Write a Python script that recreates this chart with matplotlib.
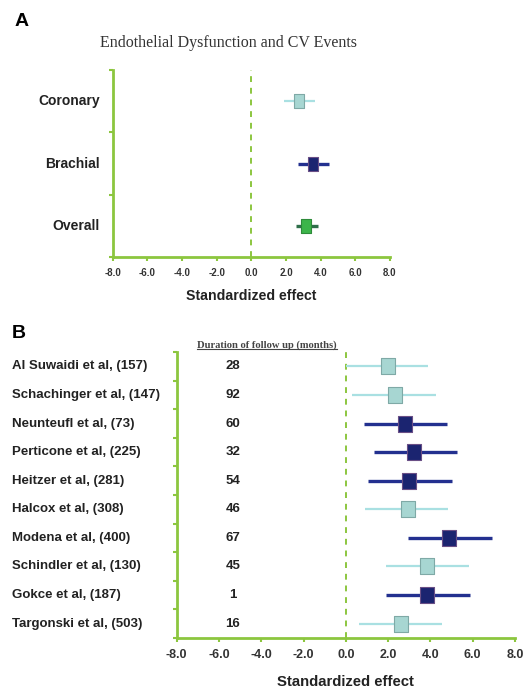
import numpy as np
import matplotlib
matplotlib.use("Agg")
import matplotlib.pyplot as plt
from matplotlib.path import Path

plt.rcParams['font.family'] = ['Liberation Sans', 'DejaVu Sans']

# panel A data
a_labels = ["Coronary", "Brachial", "Overall"]
a_est = [2.73, 3.56, 3.18]
a_lo = [1.87, 2.70, 2.56]
a_hi = [3.70, 4.49, 3.83]
a_kind = ["light", "dark", "green"]

# panel B data
b_labels = ["Al Suwaidi et al, (157)", "Schachinger et al, (147)", "Neunteufl et al, (73)",
            "Perticone et al, (225)", "Heitzer et al, (281)", "Halcox et al, (308)",
            "Modena et al, (400)", "Schindler et al, (130)", "Gokce et al, (187)",
            "Targonski et al, (503)"]
b_months = ["28", "92", "60", "32", "54", "46", "67", "45", "1", "16"]
b_est = [1.99, 2.31, 2.82, 3.24, 2.98, 2.92, 4.89, 3.86, 3.86, 2.60]
b_lo = [0.00, 0.30, 0.86, 1.34, 1.07, 0.91, 2.92, 1.90, 1.90, 0.64]
b_hi = [3.90, 4.26, 4.77, 5.26, 5.00, 4.81, 6.89, 5.82, 5.85, 4.57]
b_kind = ["light", "light", "dark", "dark", "dark", "light", "dark", "light", "dark", "light"]

xticks = np.arange(-8, 9, 2)

GREEN = "#8cc63f"
styles = {
    "light": dict(line="#a9e0e2", lw=1.6, fill="#a7d6d2", edge="#7fa9a6"),
    "dark": dict(line="#23308f", lw=2.4, fill="#1b2470", edge="#6a4f86"),
    "green": dict(line="#2f6f4a", lw=2.4, fill="#3cb54a", edge="#2e8b3a"),
}


def box_marker(w):
    return Path([(-w, -0.5), (w, -0.5), (w, 0.5), (-w, 0.5), (-w, -0.5)],
                [Path.MOVETO, Path.LINETO, Path.LINETO, Path.LINETO, Path.CLOSEPOLY])


def forest(ax, est, lo, hi, kind, msize, mw, tsize):
    n = len(est)
    ys = np.arange(n)
    for y, e, l, h, k in zip(ys, est, lo, hi, kind):
        st = styles[k]
        ax.plot([l, h], [y, y], color=st["line"], lw=st["lw"], solid_capstyle="butt", zorder=2)
        ax.plot([e], [y], marker=box_marker(mw), ms=msize, mfc=st["fill"], mec=st["edge"],
                mew=0.8, ls="none", zorder=3)
    ax.axvline(0, color=GREEN, ls=(0, (3, 3)), lw=1.4, zorder=1)
    ax.set_xlim(-8, 8)
    ax.set_ylim(n - 0.5, -0.5)
    ax.set_xticks(xticks)
    ax.set_xticklabels(["%.1f" % v for v in xticks], fontsize=tsize, fontweight="bold", color="#333333")
    ax.set_yticks(np.arange(n + 1) - 0.5)
    ax.set_yticklabels([])
    for s in ["top", "right"]:
        ax.spines[s].set_visible(False)
    for s in ["left", "bottom"]:
        ax.spines[s].set_color(GREEN)
        ax.spines[s].set_linewidth(2)
    ax.tick_params(axis="both", colors=GREEN, length=3, width=1.5, labelcolor="#333333")
    ax.tick_params(axis="x", pad=5)


fig = plt.figure(figsize=(5.25, 6.93), dpi=100)

# panel A
axA = fig.add_axes([0.2147, 0.629, 0.528, 0.270])
forest(axA, a_est, a_lo, a_hi, a_kind, 10, 0.36, 7)
for i, lab in enumerate(a_labels):
    axA.text(-0.046, i, lab, transform=axA.get_yaxis_transform(), ha="right", va="center",
             fontsize=10, fontweight="bold", color="#222222")
axA.set_xlabel("Standardized effect", fontsize=10.2, fontweight="bold", color="#222222", labelpad=8)
fig.text(15 / 525, 1 - 22 / 693, "A", fontsize=14, fontweight="bold", ha="left", va="center")
fig.text(228 / 525, 1 - 43 / 693, "Endothelial Dysfunction and CV Events", fontsize=11.5,
         family=["Liberation Serif", "DejaVu Serif"], color="#333333", ha="center", va="center")

# panel B
axB = fig.add_axes([0.3366, 0.0794, 0.6444, 0.4126])
forest(axB, b_est, b_lo, b_hi, b_kind, 12.2, 0.43, 9)
for i, (lab, m) in enumerate(zip(b_labels, b_months)):
    axB.text(-0.487, i, lab, transform=axB.get_yaxis_transform(), ha="left", va="center",
             fontsize=9.5, fontweight="bold", color="#222222")
    axB.text(0.166, i, m, transform=axB.get_yaxis_transform(), ha="center", va="center",
             fontsize=9.5, fontweight="bold", color="#222222")
axB.set_xlabel("Standardized effect", fontsize=10.7, fontweight="bold", color="#222222", labelpad=10)
fig.text(12 / 525, 1 - 333 / 693, "B", fontsize=14, fontweight="bold", ha="left", va="center")
hdr = fig.text(267 / 525, 1 - 345 / 693, "Duration of follow up (months)", fontsize=7.6,
               fontweight="bold", family=["Liberation Serif", "DejaVu Serif"], color="#444444",
               ha="center", va="center")
fig.canvas.draw()
bb = hdr.get_window_extent().transformed(fig.transFigure.inverted())
fig.add_artist(plt.Line2D([bb.x0, bb.x1], [bb.y0 + 0.001, bb.y0 + 0.001], color="#444444", lw=0.8,
                          transform=fig.transFigure))

fig.savefig("out.png", dpi=100)
